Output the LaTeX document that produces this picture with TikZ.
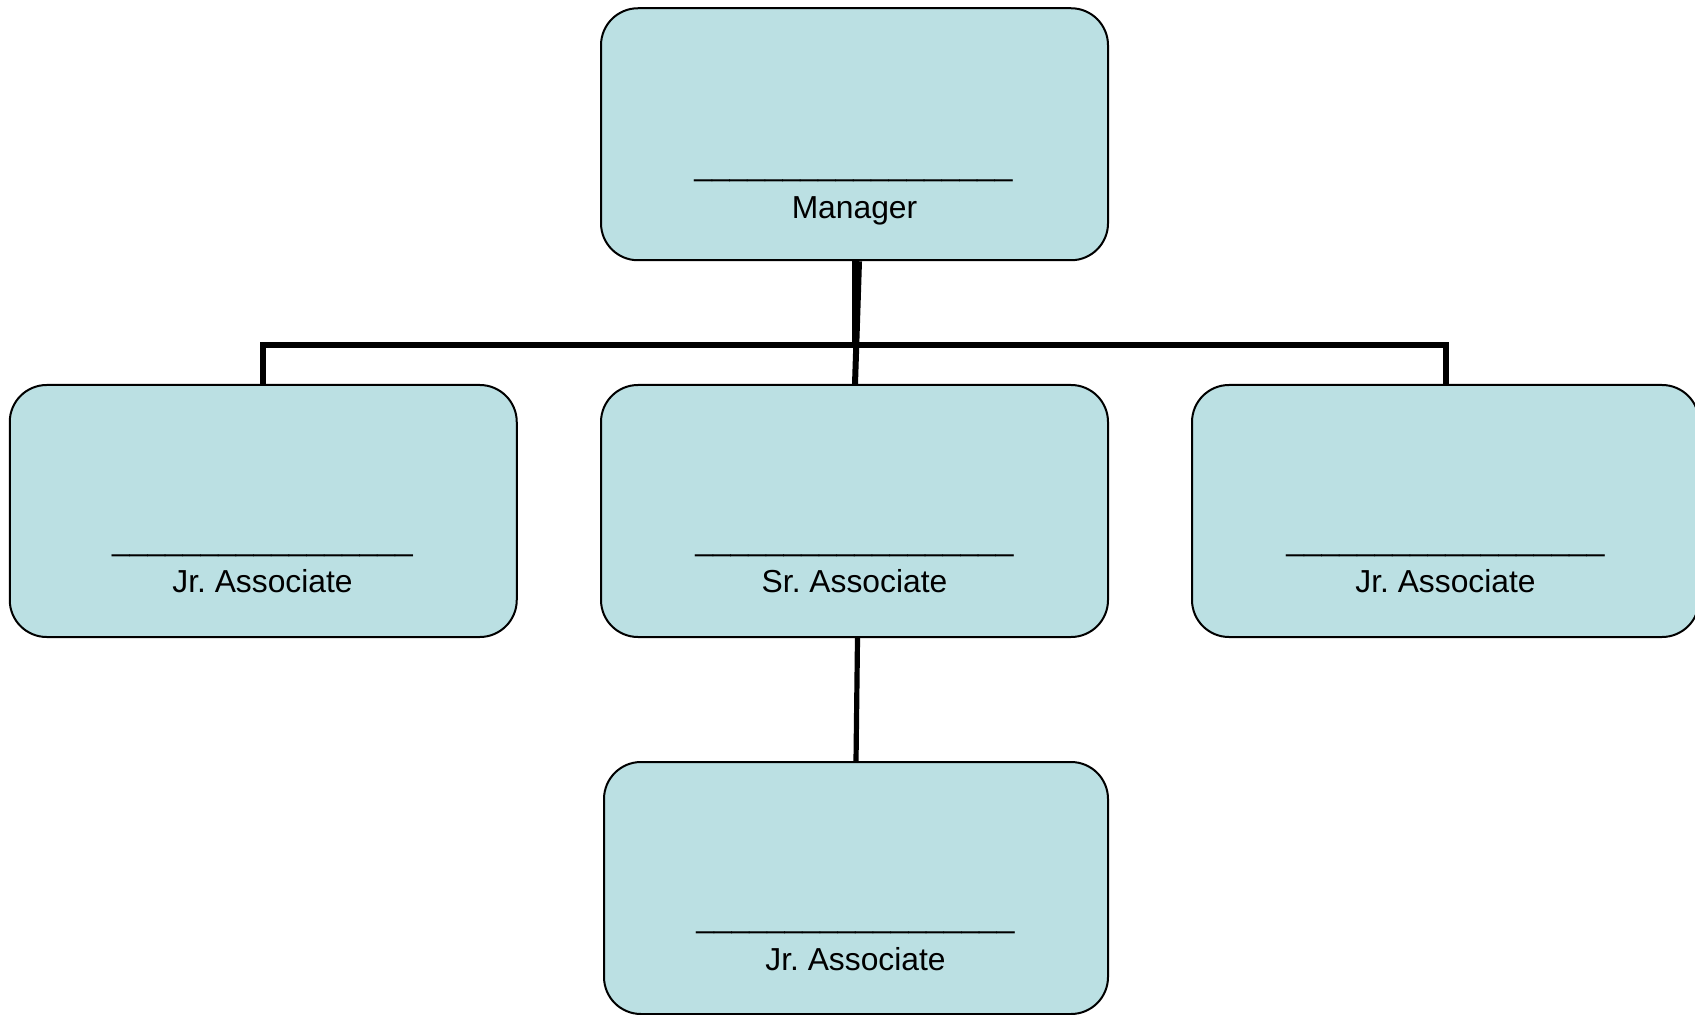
\documentclass[tikz,border=0pt]{standalone}
\usepackage{fontspec}
\setmainfont{Liberation Sans}
\frenchspacing
\definecolor{boxfill}{RGB}{187,224,227}
\newcommand{\blankline}{\_\_\_\_\_\_\_\_\_\_\_\_\_\_\_\_\_\_}
\newcommand{\shortblankline}{\_\_\_\_\_\_\_\_\_\_\_\_\_\_\_\_\_}
\begin{document}
\begin{tikzpicture}[x=0.5pt,y=-0.5pt,
  orgbox/.style={draw=black, line width=1pt, fill=boxfill, rounded corners=18.5pt,
                 minimum width=253.5pt, minimum height=126pt, inner sep=0pt},
  txt/.style={anchor=base, inner sep=0pt, font=\fontsize{15.9}{18}\selectfont},
  link/.style={line width=3pt},
  sublink/.style={line width=2.6pt}]
\useasboundingbox (0,0) rectangle (1695,1015);

% boxes
\node[orgbox] (m)  at (854.5,134.25) {};
\node[orgbox] (jl) at (263.25,511) {};
\node[orgbox] (s)  at (854.5,511) {};
\node[orgbox] (jr) at (1445.5,511) {};
\node[orgbox, minimum width=252pt] (b) at (856,888) {};

% connectors
\coordinate (bar) at (0,344.7);
\draw[link] ([xshift=0.25pt]m.south) -- ([xshift=0.25pt]m.south |- bar) -| (jl.north);
\draw[link] ([xshift=0.25pt]m.south) -- ([xshift=0.25pt]m.south |- bar) -| (jr.north);
\draw[link] ([xshift=2.25pt]m.south) -- ([xshift=0.25pt]s.north);
\draw[sublink] ([xshift=1.5pt]s.south) -- (b.north);

% texts
\node[txt] (mu) at (853.5,175.5) {\blankline};
\node[txt] (mt) at (854.5,219) {Manager};
\node[txt] (jlu) at (262.5,550.5) {\shortblankline};
\node[txt] (jlt) at (262.5,592.5) {Jr. Associate};
\node[txt] (su) at (854.5,550.5) {\blankline};
\node[txt] (st) at (854.5,592.5) {Sr. Associate};
\node[txt] (jru) at (1445.5,550.5) {\blankline};
\node[txt] (jrt) at (1445.5,592.5) {Jr. Associate};
\node[txt] (bu) at (855.5,927.5) {\blankline};
\node[txt] (bt) at (855.5,970) {Jr. Associate};
\end{tikzpicture}
\end{document}
